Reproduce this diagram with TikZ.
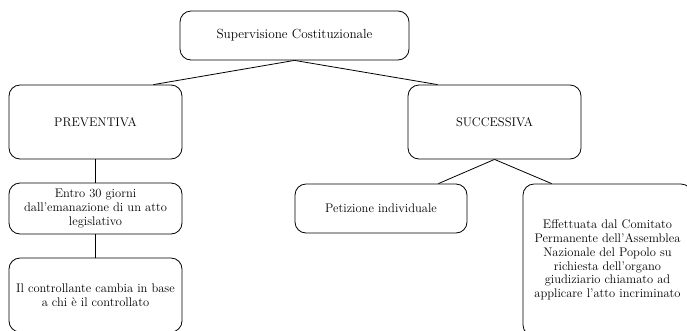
\documentclass[tikz,border=0pt]{standalone}
\usepackage{tikz}
\usetikzlibrary{calc}
\begin{document}
\begin{tikzpicture}[x=1pt,y=-1pt,
 box/.style={draw,rounded corners=11pt,line width=0.8pt,align=center,inner sep=0pt,font=\fontsize{12.5}{13.8}\selectfont},
 link/.style={line width=0.8pt}]
 	\useasboundingbox (0,0) rectangle (687,330);
 	\clip (0,0) rectangle (687,330);
 	\node[box,minimum width=229pt,minimum height=49pt,font=\fontsize{13.2}{15}\selectfont] (sup) at (294.5,35.5) {Supervisione Costituzionale};
 	\node[box,minimum width=173pt,minimum height=74pt] (prev) at (95.5,122) {PREVENTIVA};
 	\node[box,minimum width=173pt,minimum height=74pt] (succ) at (494.5,122) {SUCCESSIVA};
 	\node[box,minimum width=173pt,minimum height=51pt] (entro) at (95.5,208.5) {Entro 30 giorni\\dall'emanazione di un atto\\legislativo};
 	\node[box,minimum width=173pt,minimum height=74pt] (contr) at (95.5,295) {Il controllante cambia in base\\a chi è il controllato};
 	\node[box,minimum width=172pt,minimum height=49pt] (pet) at (381,208.5) {Petizione individuale};
 	\node[box,minimum width=169pt,minimum height=152pt] (comit) at (607.5,260) {Effettuata dal Comitato\\Permanente dell'Assemblea\\Nazionale del Popolo su\\richiesta dell'organo\\giudiziario chiamato ad\\applicare l'atto incriminato};
 	\draw[link] (sup.south) -- ($(prev.north east)+(-29,0)$);
 	\draw[link] (sup.south) -- ($(succ.north west)+(30,0)$);
 	\draw[link] (prev.south) -- (entro.north);
 	\draw[link] (entro.south) -- (contr.north);
 	\draw[link] (succ.south) -- ($(pet.north east)+(-29,0)$);
 	\draw[link] (succ.south) -- ($(comit.north west)+(29,0)$);
\end{tikzpicture}
\end{document}
